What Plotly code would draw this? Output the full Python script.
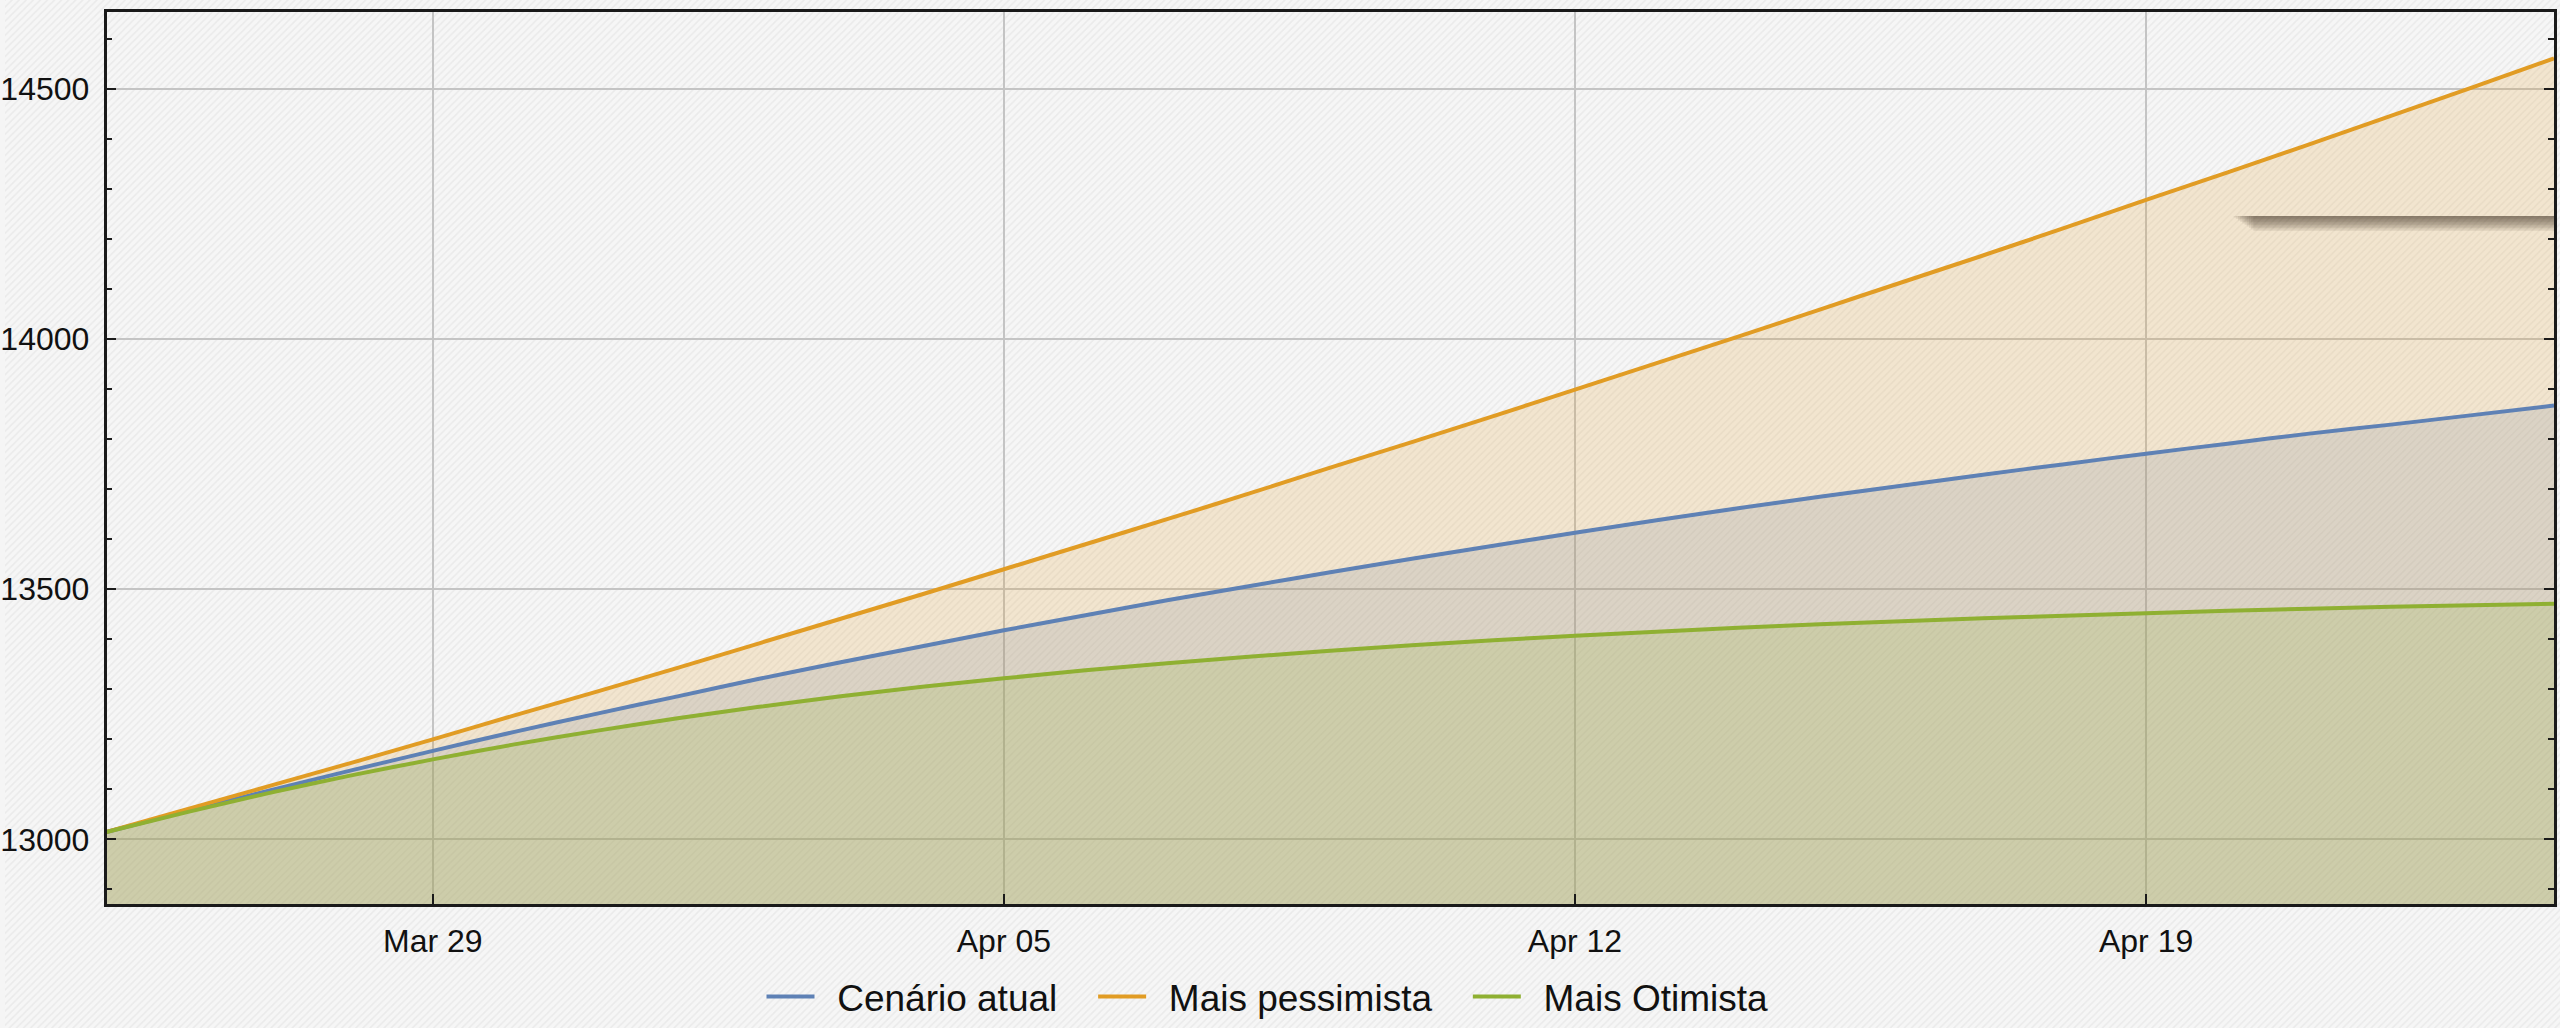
import pandas as pd
import plotly.graph_objects as go

# Daily projections (31 days starting 2020-03-25)
start_date = "2020-03-25"
cenario_atual = [13015, 13057, 13098, 13138, 13177, 13215, 13251, 13286, 13321, 13354,
                 13386, 13418, 13448, 13478, 13506, 13534, 13561, 13587, 13613, 13638,
                 13662, 13685, 13707, 13729, 13750, 13771, 13791, 13811, 13829, 13848, 13867]
mais_pessimista = [13015, 13061, 13107, 13153, 13200, 13248, 13295, 13343, 13392, 13441,
                   13490, 13540, 13590, 13640, 13691, 13743, 13794, 13846, 13899, 13952,
                   14005, 14059, 14113, 14167, 14222, 14278, 14333, 14389, 14446, 14503, 14561]
mais_otimista = [13015, 13055, 13093, 13128, 13160, 13190, 13217, 13242, 13265, 13286,
                 13305, 13322, 13338, 13352, 13365, 13377, 13388, 13398, 13407, 13415,
                 13423, 13430, 13436, 13442, 13447, 13452, 13457, 13461, 13465, 13468, 13471]

dates = pd.date_range(start_date, periods=len(cenario_atual), freq="D")

series = [
    ("Cenário atual", cenario_atual, "#5E81B5"),
    ("Mais pessimista", mais_pessimista, "#E19C24"),
    ("Mais Otimista", mais_otimista, "#8FB032"),
]

def rgba(hex_color, a):
    h = hex_color.lstrip("#")
    r, g, b = int(h[0:2], 16), int(h[2:4], 16), int(h[4:6], 16)
    return f"rgba({r},{g},{b},{a})"

fig = go.Figure()

# Striped page background on a full-size helper axis
fig.add_trace(go.Scatter(
    x=[0, 1, 1, 0, 0], y=[0, 0, 1, 1, 0], xaxis="x", yaxis="y",
    mode="lines", fill="toself", line=dict(width=0),
    fillpattern=dict(shape="/", size=5, solidity=0.3, fgcolor="#dedede", bgcolor="#f6f6f6"),
    hoverinfo="skip", showlegend=False,
))

# Translucent fills down to the axis
for name, vals, color in series:
    fig.add_trace(go.Scatter(
        x=dates, y=vals, xaxis="x2", yaxis="y2", mode="lines",
        line=dict(width=0, shape="spline", smoothing=0.6),
        fill="tozeroy", fillcolor=rgba(color, 0.18),
        hoverinfo="skip", showlegend=False,
    ))

# Curves (no-break spaces set the spacing around legend labels)
lead = "\u00a0\u2009"
trail = "\u00a0" * 3
for name, vals, color in series:
    fig.add_trace(go.Scatter(
        x=dates, y=vals, xaxis="x2", yaxis="y2", mode="lines", name=lead + name + trail,
        line=dict(width=4, color=color, shape="spline", smoothing=0.6),
    ))

# Soft drop shadow strip near the upper right
W, H = 2560, 1028
sx0, sx1, sy = 2233, 2554, 216
shapes = []
for k in range(10):
    shapes.append(dict(
        type="rect", xref="paper", yref="paper", layer="above",
        x0=(sx0 + k * 2.2) / W, x1=sx1 / W,
        y0=1 - (sy + 1.5 * (k + 1)) / H, y1=1 - sy / H,
        fillcolor="#3a2e20", opacity=0.075, line=dict(width=0),
    ))

font_family = "Liberation Sans, Arial, sans-serif"
axis_color = "#1a1a1a"
grid_color = "#c4c4c4"

fig.update_layout(
    width=W, height=H,
    margin=dict(l=0, r=0, t=0, b=0),
    paper_bgcolor="#f5f5f5",
    plot_bgcolor="rgba(0,0,0,0)",
    font=dict(family=font_family, color="#111111"),
    shapes=shapes,
    xaxis=dict(domain=[0, 1], range=[0, 1], visible=False, fixedrange=True),
    yaxis=dict(domain=[0, 1], range=[0, 1], visible=False, fixedrange=True, anchor="x"),
    xaxis2=dict(
        domain=[101.7 / W, 2554 / W], anchor="y2", type="date",
        range=["2020-03-25", "2020-04-24"],
        tick0="2020-03-29", dtick=7 * 86400000, tickformat="%b %d",
        ticks="inside", ticklen=10, tickwidth=2, tickcolor=axis_color,
        showline=True, linecolor=axis_color, linewidth=2.5, mirror=True,
        showgrid=True, gridcolor=grid_color, gridwidth=1.5, zeroline=False,
        tickfont=dict(size=32, family=font_family, color="#111111"),
        ticklabelstandoff=7,
    ),
    yaxis2=dict(
        domain=[1 - 904 / H, 1 - 12.3 / H], anchor="x2",
        range=[12871, 14653], tick0=13000, dtick=500, tickformat="d",
        ticks="inside", ticklen=10, tickwidth=2, tickcolor=axis_color,
        minor=dict(tick0=13000, dtick=100, ticks="inside", ticklen=6,
                   tickwidth=2, tickcolor=axis_color, showgrid=False),
        showline=True, linecolor=axis_color, linewidth=2.5, mirror="ticks",
        showgrid=True, gridcolor=grid_color, gridwidth=1.5, zeroline=False,
        tickfont=dict(size=32, family=font_family, color="#111111"),
        ticklabelstandoff=8,
    ),
    legend=dict(
        orientation="h", x=0.5, xanchor="center", y=0, yanchor="bottom",
        font=dict(size=37, family=font_family, color="#111111"),
        bgcolor="rgba(0,0,0,0)", itemwidth=48,
    ),
    showlegend=True,
)

fig.write_html("out.html")
